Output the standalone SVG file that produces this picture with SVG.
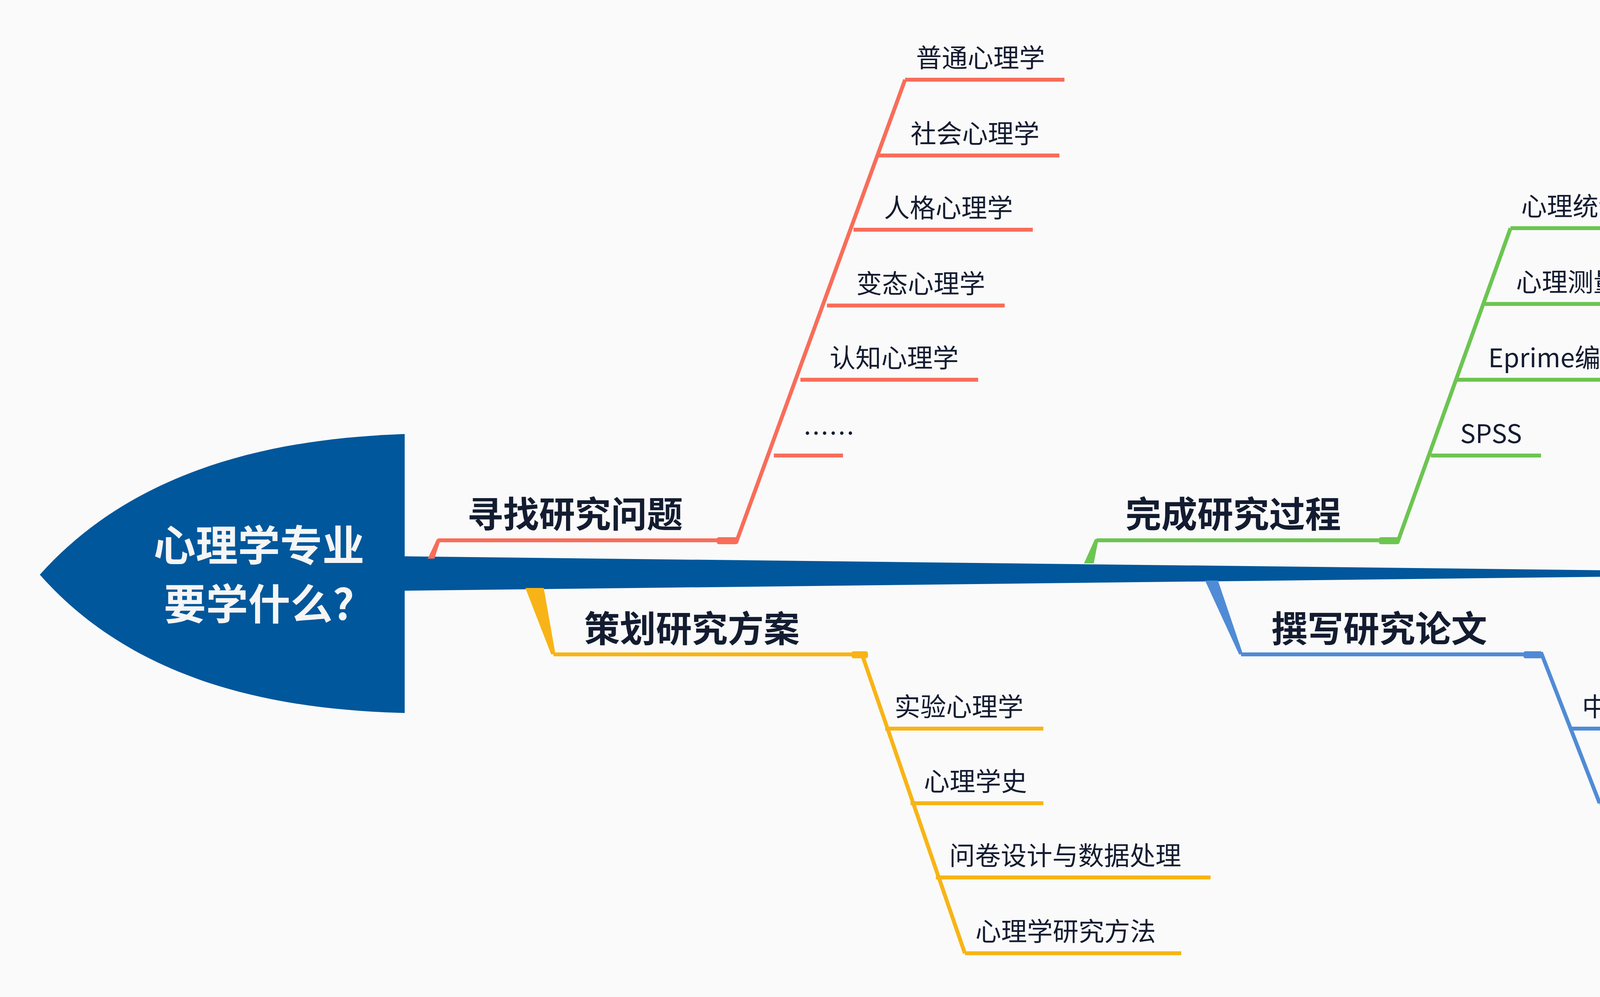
<svg xmlns="http://www.w3.org/2000/svg" width="5328" height="2552" viewBox="0 0 5328 2552">
<style>
.t{font-family:"Noto Sans CJK SC","Noto Sans",sans-serif;fill:#131c30;font-size:66px}
.h{font-family:"Noto Sans CJK SC","Noto Sans",sans-serif;fill:#131c30;font-size:92px;font-weight:bold}
.c{font-family:"Noto Sans CJK SC","Noto Sans",sans-serif;fill:#f5f5f5;font-size:108px;font-weight:bold}
.r{stroke:#f86d5a}.y{stroke:#f8b416}.g{stroke:#6cc551}.b{stroke:#508bd6}
line,polyline{stroke-width:10;fill:none}
</style>
<rect width="5328" height="2552" fill="#fafafa"/>
<g id="fish">
<path d="M1036 1111 C600 1125 300 1250 102 1471 C300 1695 600 1815 1036 1825 Z" fill="#01579b"/>
<polygon points="1036,1424 4825,1468 1036,1512" fill="#01579b"/>
<polygon points="4825,1468 5151,1108 5151,1828" fill="#01579b"/>
</g>
<g id="center">
<text class="c" x="663" y="1436" text-anchor="middle">心理学专业</text>
<text class="c" x="663" y="1586" text-anchor="middle">要学什么?</text>
</g>
<g id="connectors">
<polygon points="1095,1430 1119,1379 1126,1387 1112,1430" fill="#f86d5a"/>
<line class="r" x1="1121" y1="1383" x2="1850" y2="1383"/>
<rect x="1835" y="1375" width="54" height="18" rx="5" fill="#f86d5a"/>
<line class="r" x1="1884" y1="1390" x2="2317" y2="204"/>
<line class="r" x1="2317" y1="204" x2="2725" y2="204"/>
<line class="r" x1="2250" y1="398" x2="2712" y2="398"/>
<line class="r" x1="2185" y1="588" x2="2644" y2="588"/>
<line class="r" x1="2117" y1="782" x2="2572" y2="782"/>
<line class="r" x1="2049" y1="972" x2="2504" y2="972"/>
<line class="r" x1="1981" y1="1166" x2="2158" y2="1166"/>

<polygon points="1345,1505 1392,1505 1422,1675 1411,1675" fill="#f8b416"/>
<line class="y" x1="1417" y1="1675" x2="2200" y2="1675"/>
<rect x="2180" y="1667" width="42" height="18" rx="5" fill="#f8b416"/>
<line class="y" x1="2205" y1="1670" x2="2470" y2="2440"/>
<line class="y" x1="2266" y1="1865" x2="2671" y2="1865"/>
<line class="y" x1="2331" y1="2056" x2="2671" y2="2056"/>
<line class="y" x1="2396" y1="2246" x2="3099" y2="2246"/>
<line class="y" x1="2470" y1="2440" x2="3024" y2="2440"/>

<polygon points="2775,1442 2800,1442 2812,1380 2803,1380" fill="#6cc551"/>
<line class="g" x1="2807" y1="1383" x2="3550" y2="1383"/>
<rect x="3530" y="1375" width="52" height="18" rx="5" fill="#6cc551"/>
<line class="g" x1="3577" y1="1390" x2="3867" y2="584"/>
<line class="g" x1="3867" y1="584" x2="4200" y2="584"/>
<line class="g" x1="3799" y1="778" x2="4166" y2="778"/>
<line class="g" x1="3731" y1="972" x2="4237" y2="972"/>
<line class="g" x1="3663" y1="1166" x2="3945" y2="1166"/>

<polygon points="3085,1486 3118,1486 3182,1675 3172,1675" fill="#508bd6"/>
<line class="b" x1="3177" y1="1675" x2="3920" y2="1675"/>
<rect x="3900" y="1667" width="48" height="18" rx="5" fill="#508bd6"/>
<line class="b" x1="3945" y1="1670" x2="4095" y2="2056"/>
<line class="b" x1="4023" y1="1865" x2="4716" y2="1865"/>
<line class="b" x1="4095" y1="2056" x2="4784" y2="2056"/>
</g>
<g id="b1">
<text class="h" x="1196" y="1350">寻找研究问题</text>
<text class="t" x="2345" y="172">普通心理学</text>
<text class="t" x="2331" y="366">社会心理学</text>
<text class="t" x="2263" y="556">人格心理学</text>
<text class="t" x="2192" y="750">变态心理学</text>
<text class="t" x="2124" y="940">认知心理学</text>
<text class="t" x="2056" y="1134">……</text>
</g>
<g id="b2">
<text class="h" x="1495" y="1643">策划研究方案</text>
<text class="t" x="2290" y="1833">实验心理学</text>
<text class="t" x="2365" y="2024">心理学史</text>
<text class="t" x="2430" y="2214">问卷设计与数据处理</text>
<text class="t" x="2497" y="2408">心理学研究方法</text>
</g>
<g id="b3">
<text class="h" x="2881" y="1350">完成研究过程</text>
<text class="t" x="3894" y="552">心理统计</text>
<text class="t" x="3881" y="746">心理测量</text>
<text class="t" x="3810" y="940">Eprime编程</text>
<text class="t" x="3738" y="1134">SPSS</text>
</g>
<g id="b4">
<text class="h" x="3255" y="1643">撰写研究论文</text>
<text class="t" x="4050" y="1833">中文文献阅读与写作</text>
<text class="t" x="4118" y="2024">英文文献阅读与写作</text>
</g>
</svg>
